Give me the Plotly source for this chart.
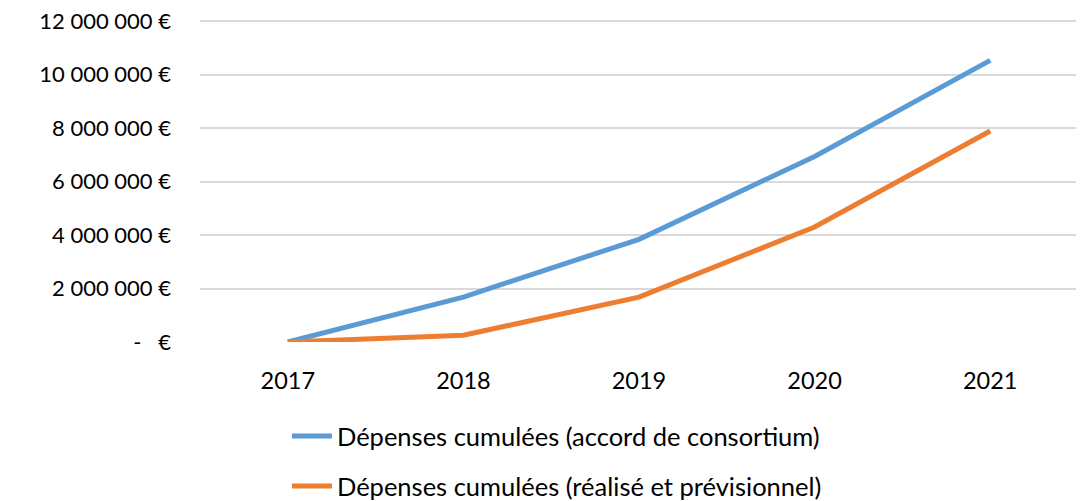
import plotly.graph_objects as go

years = ["2017", "2018", "2019", "2020", "2021"]
accord = [0, 1680000, 3840000, 6940000, 10530000]
realise = [0, 250000, 1680000, 4300000, 7890000]
names = ["Dépenses cumulées (accord de consortium)", "Dépenses cumulées (réalisé et prévisionnel)"]
tick_vals = [0, 2000000, 4000000, 6000000, 8000000, 10000000, 12000000]
tick_text = ["-   €", "2 000 000 €", "4 000 000 €", "6 000 000 €", "8 000 000 €", "10 000 000 €", "12 000 000 €"]

FONT = "Lato, 'Open Sans', sans-serif"

fig = go.Figure()
fig.add_trace(go.Scatter(x=years, y=accord, mode="lines", name=names[0],
                         line=dict(color="#5B9BD5", width=5), legendgroup="a"))
fig.add_trace(go.Scatter(x=years, y=realise, mode="lines", name=names[1],
                         line=dict(color="#ED7D31", width=5), legendgroup="b"))

fig.update_layout(
    width=1076, height=501,
    margin=dict(l=192, r=6, t=12, b=167, autoexpand=False),
    paper_bgcolor="white", plot_bgcolor="white",
    font=dict(family=FONT, size=22, color="#000000"),
    showlegend=True,
    legend=dict(x=0.099, xanchor="left", y=-0.22, yanchor="top",
                orientation="v", traceorder="grouped", tracegroupgap=14,
                font=dict(family=FONT, size=25.5, color="#000000"),
                itemwidth=40, bgcolor="rgba(0,0,0,0)"),
    xaxis=dict(type="category", range=[-0.5, 4.5], showgrid=False, zeroline=False,
               showline=False, ticks="", ticklabelstandoff=22, tickfont=dict(size=23.5)),
    yaxis=dict(range=[0, 12040000], tickvals=tick_vals, ticktext=tick_text,
               showgrid=True, gridcolor="#D9D9D9", gridwidth=1.5,
               zeroline=False, showline=False, ticks="", ticklabeloverflow="allow",
               ticklabelstandoff=28, tickfont=dict(size=22)),
)

fig.write_html("out.html")
